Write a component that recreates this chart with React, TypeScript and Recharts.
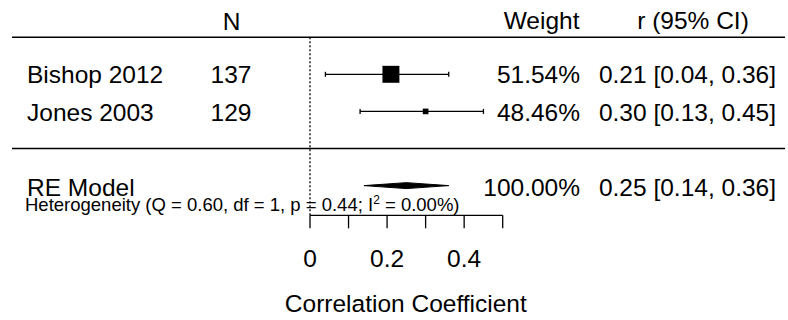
import React from 'react';
import { ComposedChart, Scatter, Area, XAxis, YAxis, ErrorBar, ReferenceLine } from 'recharts';

// study rows (top to bottom)
const studies = ['Bishop 2012', 'Jones 2003'];
const sampleSizes = [137, 129];
const estimates = [0.21, 0.3];
const ciLower = [0.04, 0.13];
const ciUpper = [0.36, 0.45];
const weights = [51.54, 48.46];
const studyRows = [2, 1];

// random-effects summary
const reLabel = 'RE Model';
const reEstimate = 0.25;
const reLower = 0.14;
const reUpper = 0.36;
const reWeight = 100;
const reRow = -1;

const xTicks = [0, 0.1, 0.2, 0.3, 0.4, 0.5];
const xTickLabels = [0, 0.2, 0.4];

const W = 788;
const H = 320;
const FONT = '"Liberation Sans", Arial, sans-serif';
const FS = 24.5;
const SQ = 11.3; // base square size in px
const DIAMOND_HALF = 0.08; // diamond half height, row units

const fmt = (v: number) => v.toFixed(2);

const minW = Math.min(...weights);
const maxW = Math.max(...weights);

const studyData = studies.map((s, i) => ({
  name: s,
  x: estimates[i],
  y: studyRows[i],
  err: [estimates[i] - ciLower[i], ciUpper[i] - estimates[i]],
  psize: 0.5 + (weights[i] - minW) / (maxW - minW),
}));

const diamondData = [
  { x: reLower, band: [reRow, reRow] },
  { x: reEstimate, band: [reRow - DIAMOND_HALF, reRow + DIAMOND_HALF] },
  { x: reUpper, band: [reRow, reRow] },
];

const SquareShape = (props: any) => {
  const { cx, cy, payload } = props;
  const s = payload.psize * SQ;
  return <rect x={cx - s / 2} y={cy - s / 2} width={s} height={s} fill="#000" />;
};

const rowBaselines = [83.3, 120.7];

const App = () => {
  return (
    <div style={{ position: 'absolute', left: 0, top: 0, width: W, height: H, background: '#fff' }}>
      <ComposedChart
        width={W}
        height={H}
        margin={{ top: 37.2, right: 3, bottom: 44.7, left: 12 }}
      >
        <XAxis
          type="number"
          dataKey="x"
          domain={[-0.7732, 1.2325]}
          ticks={xTicks}
          interval={0}
          axisLine={false}
          height={60}
          tickSize={13}
          tickMargin={21.4}
          tickLine={{ stroke: '#000', strokeWidth: 1.3 }}
          tickFormatter={(v: number) => (xTickLabels.includes(v) ? String(v) : '')}
          tick={{ fill: '#000', fontSize: FS, fontFamily: FONT }}
        />
        <YAxis type="number" dataKey="y" domain={[-1.8, 3]} hide allowDataOverflow />
        <ReferenceLine y={3} stroke="#000" strokeWidth={1.4} />
        <ReferenceLine y={0} stroke="#000" strokeWidth={1.4} />
        <ReferenceLine x={0} stroke="#000" strokeWidth={1.3} strokeDasharray="2 2" />
        <ReferenceLine
          segment={[{ x: 0, y: -1.8 }, { x: 0.5, y: -1.8 }]}
          stroke="#000"
          strokeWidth={1.3}
        />
        <Area
          data={diamondData}
          dataKey="band"
          type="linear"
          stroke="#000"
          strokeWidth={1}
          fill="#000"
          fillOpacity={1}
          isAnimationActive={false}
        />
        <Scatter data={studyData} dataKey="y" shape={SquareShape} isAnimationActive={false}>
          <ErrorBar dataKey="err" direction="x" width={2.5} stroke="#000" strokeWidth={1.3} />
        </Scatter>
      </ComposedChart>
      <svg
        width={W}
        height={H}
        style={{ position: 'absolute', left: 0, top: 0, pointerEvents: 'none' }}
        fontFamily={FONT}
        fontSize={FS}
        fill="#000"
      >
        <text x={231.5} y={30} textAnchor="middle">N</text>
        <text x={579.5} y={28.5} textAnchor="end">Weight</text>
        <text x={693} y={28.5} textAnchor="middle">r (95% CI)</text>
        {studies.map((s, i) => (
          <g key={s}>
            <text x={27} y={rowBaselines[i]}>{s}</text>
            <text x={231} y={rowBaselines[i]} textAnchor="middle">{sampleSizes[i]}</text>
            <text x={580} y={rowBaselines[i]} textAnchor="end">{fmt(weights[i])}%</text>
            <text x={776} y={rowBaselines[i]} textAnchor="end">
              {`${fmt(estimates[i])} [${fmt(ciLower[i])}, ${fmt(ciUpper[i])}]`}
            </text>
          </g>
        ))}
        <text x={27} y={195.5}>{reLabel}</text>
        <text x={580} y={195.5} textAnchor="end">{fmt(reWeight)}%</text>
        <text x={776} y={195.5} textAnchor="end">
          {`${fmt(reEstimate)} [${fmt(reLower)}, ${fmt(reUpper)}]`}
        </text>
        <text x={25} y={210.7} fontSize={18.5}>
          Heterogeneity (Q = 0.60, df = 1, p = 0.44; I
          <tspan dy={-7} fontSize={12}>2</tspan>
          <tspan dy={7}> = 0.00%)</tspan>
        </text>
        <text x={405.8} y={311.7} textAnchor="middle">Correlation Coefficient</text>
      </svg>
    </div>
  );
};

export default App;
